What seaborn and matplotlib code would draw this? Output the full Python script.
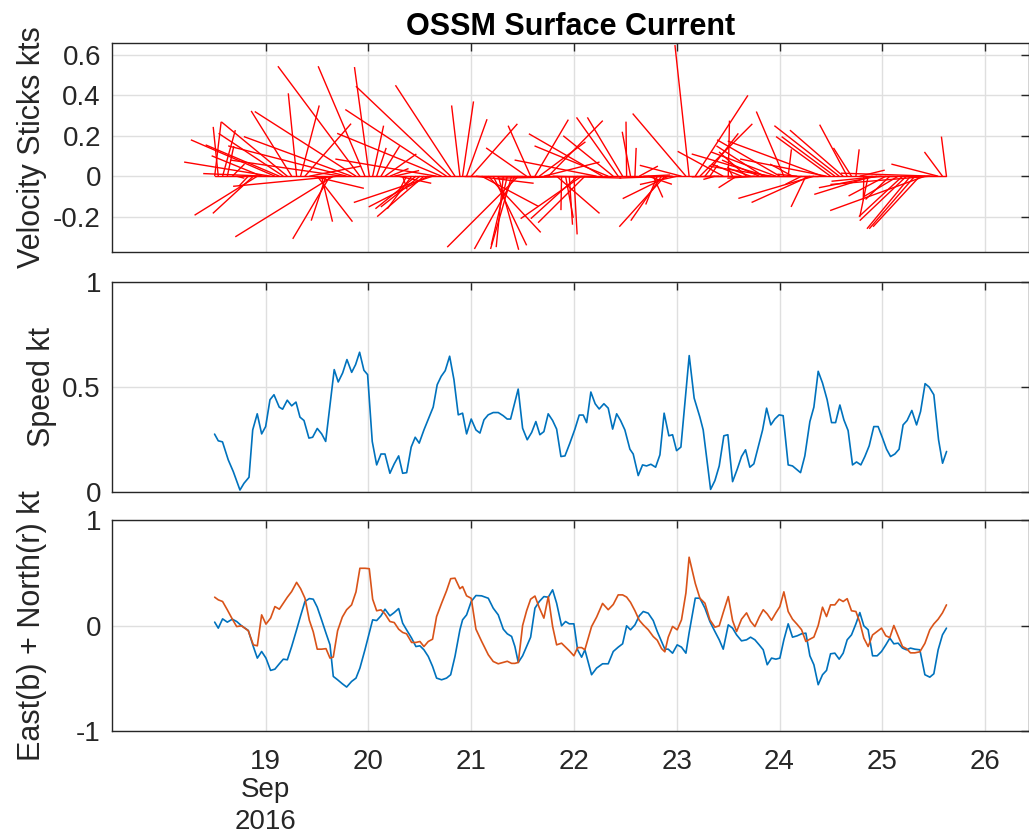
import numpy as np
import pandas as pd
import matplotlib
matplotlib.use("Agg")
import matplotlib.pyplot as plt
from matplotlib.collections import LineCollection
from matplotlib import transforms
import seaborn as sns

# ---------------- data ----------------
title = "OSSM Surface Current"
day_ticks = [19, 20, 21, 22, 23, 24, 25, 26]
month_label = "Sep"
year_label = "2016"

speed_t = [18.503, 18.539, 18.580, 18.636, 18.685, 18.750, 18.789, 18.838, 18.874, 18.918,
           18.961, 19.000, 19.042, 19.081, 19.132, 19.165, 19.210, 19.253, 19.295, 19.334,
           19.373, 19.421, 19.457, 19.502, 19.545, 19.584, 19.667, 19.706, 19.749, 19.791,
           19.837, 19.875, 19.914, 19.956, 19.992, 20.037, 20.080, 20.122, 20.161, 20.209,
           20.251, 20.294, 20.333, 20.372, 20.416, 20.455, 20.494, 20.540, 20.591, 20.630,
           20.669, 20.708, 20.747, 20.790, 20.832, 20.874, 20.916, 20.955, 21.000, 21.046,
           21.085, 21.124, 21.165, 21.214, 21.263, 21.311, 21.350, 21.383, 21.457, 21.500,
           21.545, 21.588, 21.629, 21.668, 21.707, 21.749, 21.792, 21.831, 21.873, 21.912,
           21.960, 22.009, 22.051, 22.090, 22.123, 22.164, 22.206, 22.245, 22.291, 22.333,
           22.376, 22.415, 22.453, 22.495, 22.544, 22.576, 22.625, 22.667, 22.706, 22.748,
           22.794, 22.836, 22.877, 22.923, 22.959, 22.998, 23.040, 23.121, 23.169, 23.225,
           23.257, 23.329, 23.371, 23.413, 23.458, 23.497, 23.543, 23.588, 23.630, 23.669,
           23.711, 23.750, 23.792, 23.835, 23.874, 23.915, 23.954, 23.996, 24.035, 24.084,
           24.126, 24.165, 24.204, 24.246, 24.295, 24.334, 24.376, 24.418, 24.463, 24.506,
           24.545, 24.587, 24.626, 24.667, 24.710, 24.749, 24.791, 24.830, 24.872, 24.917,
           24.959, 25.002, 25.041, 25.080, 25.122, 25.163, 25.202, 25.241, 25.287, 25.333,
           25.372, 25.416, 25.455, 25.501, 25.547, 25.586, 25.625]
speed_kt = [0.275, 0.243, 0.238, 0.152, 0.096, 0.008, 0.040, 0.069, 0.295, 0.372,
            0.276, 0.311, 0.439, 0.463, 0.404, 0.394, 0.437, 0.410, 0.428, 0.356,
            0.340, 0.256, 0.260, 0.302, 0.276, 0.240, 0.583, 0.524, 0.567, 0.631,
            0.570, 0.607, 0.666, 0.580, 0.559, 0.240, 0.128, 0.180, 0.180, 0.088,
            0.133, 0.171, 0.088, 0.091, 0.213, 0.260, 0.232, 0.295, 0.356, 0.404,
            0.511, 0.551, 0.578, 0.647, 0.535, 0.367, 0.375, 0.276, 0.347, 0.295,
            0.280, 0.343, 0.367, 0.378, 0.378, 0.363, 0.347, 0.347, 0.490, 0.303,
            0.248, 0.283, 0.335, 0.272, 0.287, 0.372, 0.340, 0.299, 0.168, 0.171,
            0.232, 0.299, 0.366, 0.366, 0.330, 0.476, 0.420, 0.395, 0.420, 0.399,
            0.299, 0.372, 0.340, 0.295, 0.203, 0.180, 0.077, 0.128, 0.123, 0.131,
            0.117, 0.176, 0.375, 0.267, 0.272, 0.196, 0.213, 0.650, 0.447, 0.356,
            0.295, 0.011, 0.053, 0.123, 0.267, 0.272, 0.048, 0.107, 0.168, 0.200,
            0.117, 0.133, 0.213, 0.295, 0.399, 0.319, 0.347, 0.367, 0.363, 0.128,
            0.123, 0.107, 0.091, 0.171, 0.335, 0.404, 0.575, 0.519, 0.439, 0.330,
            0.330, 0.414, 0.343, 0.292, 0.128, 0.142, 0.128, 0.168, 0.219, 0.311,
            0.311, 0.256, 0.203, 0.168, 0.180, 0.203, 0.319, 0.340, 0.388, 0.319,
            0.383, 0.516, 0.500, 0.463, 0.248, 0.136, 0.192]

uv_t = [18.504, 18.539, 18.581, 18.627, 18.676, 18.718, 18.766, 18.831, 18.880, 18.919,
        18.961, 19.003, 19.048, 19.090, 19.133, 19.172, 19.211, 19.253, 19.301, 19.340,
        19.382, 19.425, 19.463, 19.502, 19.544, 19.587, 19.626, 19.658, 19.700, 19.746,
        19.788, 19.836, 19.879, 19.917, 19.966, 20.008, 20.041, 20.080, 20.122, 20.161,
        20.209, 20.251, 20.294, 20.333, 20.371, 20.420, 20.462, 20.501, 20.540, 20.582,
        20.624, 20.663, 20.712, 20.760, 20.800, 20.842, 20.890, 20.916, 20.955, 21.000,
        21.046, 21.101, 21.166, 21.214, 21.263, 21.312, 21.351, 21.393, 21.425, 21.458,
        21.500, 21.539, 21.578, 21.620, 21.662, 21.707, 21.750, 21.792, 21.831, 21.879,
        21.918, 21.954, 21.999, 22.035, 22.074, 22.106, 22.171, 22.220, 22.278, 22.333,
        22.382, 22.430, 22.473, 22.512, 22.550, 22.593, 22.635, 22.674, 22.722, 22.771,
        22.810, 22.852, 22.884, 22.917, 22.959, 23.004, 23.046, 23.089, 23.120, 23.180,
        23.225, 23.274, 23.322, 23.371, 23.413, 23.452, 23.501, 23.543, 23.582, 23.630,
        23.679, 23.718, 23.760, 23.802, 23.841, 23.880, 23.922, 23.964, 24.003, 24.042,
        24.084, 24.126, 24.172, 24.214, 24.256, 24.295, 24.334, 24.376, 24.418, 24.457,
        24.496, 24.538, 24.580, 24.619, 24.658, 24.700, 24.743, 24.781, 24.820, 24.862,
        24.905, 24.950, 24.992, 25.034, 25.073, 25.112, 25.154, 25.196, 25.235, 25.274,
        25.316, 25.365, 25.414, 25.462, 25.501, 25.543, 25.585, 25.624]
east_kt = [0.032, -0.025, 0.063, 0.032, 0.060, 0.038, -0.003, -0.047, -0.200, -0.310,
           -0.247, -0.310, -0.427, -0.415, -0.364, -0.320, -0.326, -0.200, -0.041, 0.092,
           0.228, 0.256, 0.250, 0.174, 0.054, -0.073, -0.184, -0.484, -0.516, -0.554,
           -0.585, -0.532, -0.500, -0.405, -0.231, -0.073, 0.054, 0.047, 0.092, 0.155,
           0.092, 0.123, 0.161, 0.022, -0.041, -0.120, -0.200, -0.193, -0.231, -0.294,
           -0.389, -0.500, -0.516, -0.500, -0.468, -0.294, -0.041, 0.054, 0.101, 0.228,
           0.285, 0.282, 0.259, 0.165, 0.101, -0.035, -0.079, -0.104, -0.200, -0.351,
           -0.288, -0.200, -0.111, 0.165, 0.228, 0.275, 0.269, 0.339, 0.212, -0.003,
           0.038, 0.016, 0.016, -0.231, -0.301, -0.231, -0.468, -0.405, -0.364, -0.364,
           -0.247, -0.206, -0.174, -0.003, -0.041, 0.006, 0.092, 0.133, 0.117, 0.047,
           -0.057, -0.152, -0.225, -0.225, -0.263, -0.184, -0.206, -0.263, -0.070, 0.260,
           0.259, 0.165, 0.038, -0.057, -0.136, -0.225, 0.006, -0.025, -0.089, -0.146,
           -0.136, -0.111, -0.136, -0.184, -0.231, -0.373, -0.310, -0.320, -0.310, -0.136,
           0.016, -0.111, -0.098, -0.079, -0.073, -0.288, -0.373, -0.563, -0.468, -0.427,
           -0.269, -0.263, -0.320, -0.263, -0.136, -0.089, 0.016, 0.123, -0.003, -0.041,
           -0.288, -0.288, -0.247, -0.184, -0.120, -0.174, -0.168, -0.215, -0.231, -0.215,
           -0.225, -0.231, -0.468, -0.491, -0.459, -0.231, -0.089, -0.025]
north_kt = [0.269, 0.244, 0.228, 0.149, 0.060, -0.010, -0.003, -0.050, -0.184, -0.193,
            0.101, 0.013, 0.070, 0.180, 0.155, 0.212, 0.269, 0.323, 0.410, 0.350,
            0.260, 0.050, -0.060, -0.225, -0.225, -0.220, -0.310, -0.300, -0.050, 0.080,
            0.150, 0.196, 0.320, 0.544, 0.544, 0.540, 0.250, 0.140, 0.149, 0.110,
            0.038, 0.028, -0.035, -0.066, -0.079, -0.161, -0.161, -0.152, -0.200, -0.152,
            -0.130, 0.085, 0.212, 0.330, 0.445, 0.450, 0.350, 0.370, 0.282, 0.259,
            -0.035, -0.150, -0.278, -0.342, -0.364, -0.351, -0.340, -0.360, -0.360, -0.351,
            0.000, 0.140, 0.250, 0.280, 0.170, 0.070, 0.275, -0.009, -0.184, -0.168,
            -0.206, -0.240, -0.288, -0.210, -0.210, -0.230, -0.010, 0.080, 0.210, 0.150,
            0.200, 0.291, 0.291, 0.270, 0.220, 0.140, 0.050, 0.006, -0.040, -0.105,
            -0.140, -0.220, -0.250, -0.111, -0.009, -0.041, 0.054, 0.310, 0.649, 0.400,
            0.259, 0.212, 0.054, -0.016, -0.003, 0.123, 0.275, 0.047, -0.057, 0.060,
            0.120, 0.040, -0.010, 0.080, 0.150, 0.110, 0.050, 0.120, 0.180, 0.320,
            0.133, 0.060, 0.010, -0.040, -0.152, -0.130, -0.110, 0.000, 0.174, 0.085,
            0.196, 0.196, 0.250, 0.228, 0.255, 0.140, 0.133, 0.030, -0.120, -0.200,
            -0.090, -0.057, -0.025, -0.098, -0.115, 0.000, -0.100, -0.200, -0.220, -0.260,
            -0.260, -0.250, -0.170, -0.041, 0.015, 0.060, 0.120, 0.196]

# ---------------- style ----------------
sns.set_theme(style="white")
plt.rcParams["font.family"] = ["Liberation Sans", "DejaVu Sans"]

BLUE = "#0072BD"
ORANGE = "#D95319"
RED = "#FF0000"
FRAME = "#262626"
GRID = "#DFDFDF"

W, H = 1029, 839
fig = plt.figure(figsize=(W / 100, H / 100), dpi=100)

left = 112 / W
width = 1 - left
ax1 = fig.add_axes([left, 1 - 252 / H, width, 209 / H])
ax2 = fig.add_axes([left, 1 - 491.7 / H, width, 209.4 / H])
ax3 = fig.add_axes([left, 1 - 730.7 / H, width, 210.4 / H])

xlim = (17.505, 26.427)

# --- top: velocity sticks ---
t = np.array(uv_t)
u = np.array(east_kt)
v = np.array(north_kt)
k = 1.97  # days per knot, so stick angles are true on screen
segs = np.stack([np.column_stack([t, np.zeros_like(t)]),
                 np.column_stack([t + k * u, v])], axis=1)
ax1.add_collection(LineCollection(segs, colors=RED, linewidths=1.0, zorder=3))
sns.lineplot(x=t, y=np.zeros_like(t), ax=ax1, color=RED, linewidth=1.0, zorder=3)
ax1.set_ylim(-0.375, 0.659)
ax1.set_yticks([-0.2, 0, 0.2, 0.4, 0.6])
ax1.set_yticklabels(["-0.2", "0", "0.2", "0.4", "0.6"])
ax1.set_ylabel("Velocity Sticks kts")
ax1.set_title(title, fontsize=22, fontweight="bold", pad=6, color="black")

# --- middle: speed ---
sdf = pd.DataFrame({"t": speed_t, "speed": speed_kt})
sns.lineplot(data=sdf, x="t", y="speed", ax=ax2, color=BLUE, linewidth=1.2, zorder=3)
ax2.set_ylim(0, 1)
ax2.set_yticks([0, 0.5, 1])
ax2.set_yticklabels(["0", "0.5", "1"])
ax2.set_ylabel("Speed kt")

# --- bottom: east & north ---
edf = pd.DataFrame({"t": uv_t, "east": east_kt, "north": north_kt})
sns.lineplot(data=edf, x="t", y="east", ax=ax3, color=BLUE, linewidth=1.2, zorder=3)
sns.lineplot(data=edf, x="t", y="north", ax=ax3, color=ORANGE, linewidth=1.2, zorder=3)
ax3.set_ylim(-1, 1)
ax3.set_yticks([-1, 0, 1])
ax3.set_yticklabels(["-1", "0", "1"])
ax3.set_ylabel("East(b) + North(r) kt")

for ax in (ax1, ax2, ax3):
    ax.set_xlim(*xlim)
    ax.set_xticks(day_ticks)
    ax.set_xlabel("")
    ax.grid(True, color=GRID, linewidth=1.0, zorder=0)
    ax.set_axisbelow(True)
    for sp in ax.spines.values():
        sp.set_color(FRAME)
        sp.set_linewidth(1.0)
        sp.set_visible(True)
    ax.tick_params(axis="both", direction="in", length=6, width=1.0, color=FRAME,
                   top=True, right=True, labelsize=20, labelcolor=FRAME, pad=8)
    ax.yaxis.label.set_size(22)
    ax.yaxis.label.set_color(FRAME)
    ax.set_facecolor("white")

ax1.tick_params(axis="x", labelbottom=False)
ax2.tick_params(axis="x", labelbottom=False)
ax3.set_xticklabels([str(d) for d in day_ticks])
ax3.tick_params(axis="x", pad=13)

ax1.yaxis.set_label_coords(-0.071, 0.5)
ax2.yaxis.set_label_coords(-0.060, 0.5)
ax3.yaxis.set_label_coords(-0.071, 0.5)

trans = transforms.blended_transform_factory(ax3.transData, ax3.transAxes)
ax3.text(day_ticks[0], -0.282, month_label, transform=trans, ha="center", va="center",
         fontsize=20, color=FRAME)
ax3.text(day_ticks[0], -0.434, year_label, transform=trans, ha="center", va="center",
         fontsize=20, color=FRAME)

fig.savefig("out.png", dpi=100, facecolor="white")
